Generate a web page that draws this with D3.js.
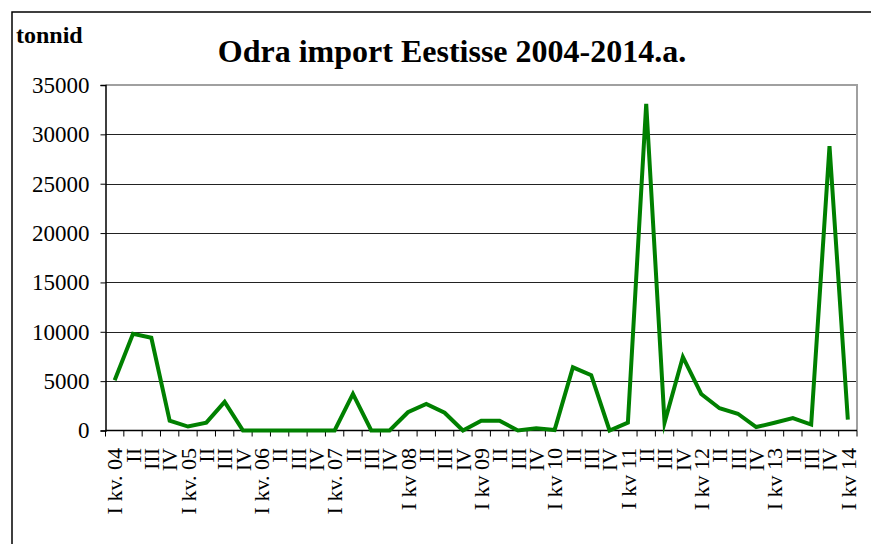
<!DOCTYPE html>
<html>
<head>
<meta charset="utf-8">
<script src="https://cdn.jsdelivr.net/npm/d3@7/dist/d3.min.js"></script>
<style>
  html, body { margin: 0; padding: 0; background: #fff; }
  svg { display: block; }
  text { font-family: "Liberation Serif", "Times New Roman", serif; fill: #000; }
</style>
</head>
<body>
<svg id="chart" width="871" height="544"></svg>
<script>
// ---- data ----
const categories = [
  "I kv. 04","II","III","IV",
  "I kv. 05","II","III","IV",
  "I kv. 06","II","III","IV",
  "I kv. 07","II","III","IV",
  "I kv 08","II","III","IV",
  "I kv 09","II","III","IV",
  "I kv 10","II","III","IV",
  "I kv 11","II","III","IV",
  "I kv 12","II","III","IV",
  "I kv 13","II","III","IV",
  "I kv 14"
];
const values = [
  5100, 9800, 9400, 1000,
  400, 800, 2900, 0,
  0, 0, 0, 0,
  0, 3700, 0, 0,
  1850, 2700, 1800, 0,
  1000, 1000, 0, 230,
  50, 6400, 5600, 0,
  800, 33100, 800, 7450,
  3700, 2250, 1700, 350,
  780, 1250, 600, 28800,
  1100
];
const yTicks = [0, 5000, 10000, 15000, 20000, 25000, 30000, 35000];
const title = "Odra import Eestisse 2004-2014.a.";
const yUnit = "tonnid";

// ---- layout ----
const svg = d3.select("#chart");
const pL = 105.5, pR = 857, pT = 85, pB = 430.5;

const x = d3.scaleBand().domain(d3.range(categories.length)).range([pL, pR]).padding(0);
const y = d3.scaleLinear().domain([0, 35000]).range([pB, pT]);

// outer chart border
svg.append("rect").attr("x", 12).attr("y", 12).attr("width", 900).attr("height", 600)
  .attr("fill", "none").attr("stroke", "#000").attr("stroke-width", 1.5);

// gridlines
svg.append("g").selectAll("line").data(yTicks.filter(d => d > 0 && d < 35000)).join("line")
  .attr("x1", pL).attr("x2", pR)
  .attr("y1", d => Math.round(y(d)) + 0.5).attr("y2", d => Math.round(y(d)) + 0.5)
  .attr("stroke", "#222").attr("stroke-width", 1);

// plot area border (top & right gray)
svg.append("path")
  .attr("d", `M${pL},${pT}H${pR}V${pB}`)
  .attr("fill", "none").attr("stroke", "#a0a0a0").attr("stroke-width", 2);

// y axis
const yAxis = d3.axisLeft(y).tickValues(yTicks).tickSize(5).tickPadding(11).tickFormat(d3.format("d"));
const gy = svg.append("g").attr("transform", `translate(${pL},0)`).call(yAxis);
gy.select(".domain").attr("stroke", "#000").attr("stroke-width", 1.5);
gy.selectAll(".tick line").attr("stroke", "#000");
gy.selectAll(".tick text").attr("font-size", 23).attr("font-family", "Liberation Serif").attr("fill", "#000");

// x axis: line + ticks at category boundaries
svg.append("line").attr("x1", pL).attr("x2", pR).attr("y1", pB).attr("y2", pB)
  .attr("stroke", "#000").attr("stroke-width", 1.5);
const boundaries = d3.range(categories.length + 1).map(i => i < categories.length ? x(i) : x(categories.length - 1) + x.bandwidth());
svg.append("g").selectAll("line").data(boundaries).join("line")
  .attr("x1", d => d).attr("x2", d => d).attr("y1", pB).attr("y2", pB + 6)
  .attr("stroke", "#000").attr("stroke-width", 1);

// x labels, rotated
svg.append("g").selectAll("text").data(categories).join("text")
  .attr("transform", (d, i) => `translate(${x(i) + x.bandwidth() / 2},448) rotate(-90)`)
  .attr("text-anchor", "end")
  .attr("dy", "0.35em")
  .attr("font-size", 22)
  .text(d => d);

// line
const line = d3.line().x((d, i) => x(i) + x.bandwidth() / 2).y(d => y(d));
svg.append("path").datum(values).attr("d", line)
  .attr("fill", "none").attr("stroke", "#008000").attr("stroke-width", 4)
  .attr("stroke-linejoin", "miter").attr("stroke-miterlimit", 10);

// title & unit
svg.append("text").attr("x", 452).attr("y", 62).attr("text-anchor", "middle")
  .attr("font-size", 32).attr("font-weight", "bold").text(title);
svg.append("text").attr("x", 16).attr("y", 43)
  .attr("font-size", 24).attr("font-weight", "bold").text(yUnit);
</script>
</body>
</html>
